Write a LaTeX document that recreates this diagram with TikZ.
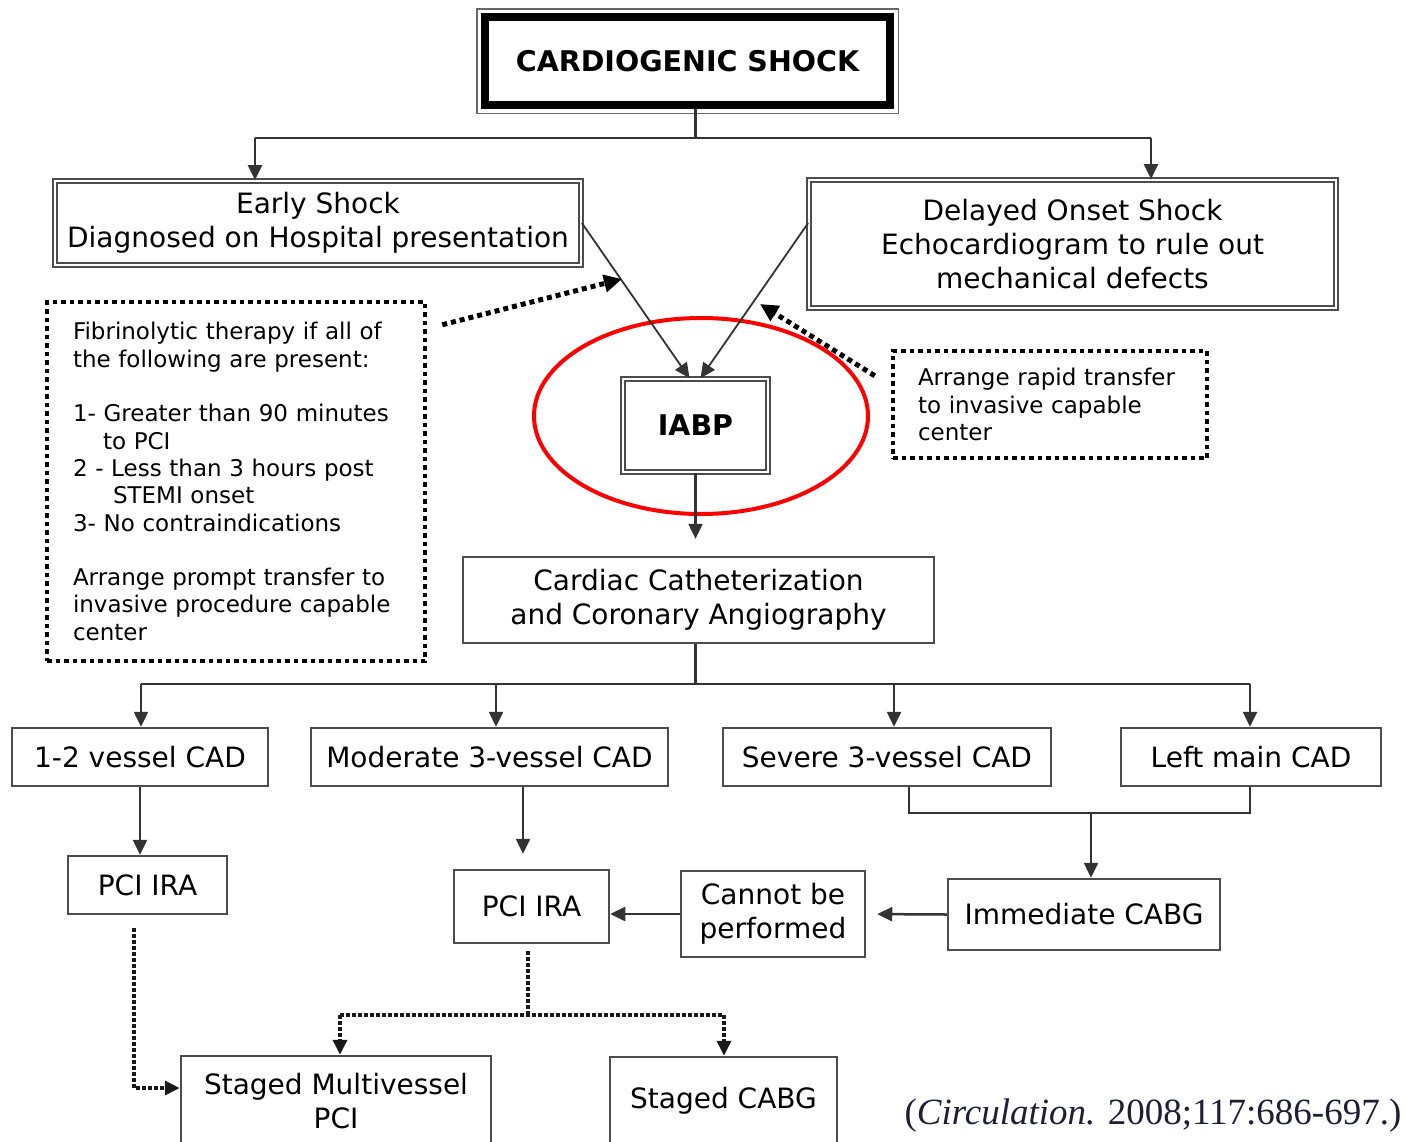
\documentclass[tikz,border=0pt]{standalone}
\usepackage{fontspec}
\setmainfont{DejaVu Sans}
\newfontfamily\citefont{Liberation Serif}
\usetikzlibrary{arrows.meta}
\definecolor{citecol}{RGB}{30,30,55}

\tikzset{
	plainbox/.style={draw=black!70, line width=2.5pt, inner sep=0pt, align=center, font=\fontsize{28}{34}\selectfont},
	dblbox/.style={plainbox, double, double distance=2.5pt, line width=1.7pt},
	boldbox/.style={font=\fontsize{28.5}{34}\selectfont\bfseries},
	dotbox/.style={draw=black, line width=4.5pt, dash pattern=on 4.5pt off 4pt, inner sep=0pt, align=left, font=\fontsize{23}{27.3}\selectfont},
	line/.style={draw=black!80, line width=2.5pt},
	arr/.style={line, -{Triangle[length=15pt,width=14pt]}},
	dotarr/.style={draw=black, line width=5pt, dash pattern=on 5pt off 4pt, -{Triangle[length=18pt,width=17pt]}},
	dotline/.style={draw=black!90, line width=3.5pt, dash pattern=on 3.5pt off 2.5pt},
	dotarrow/.style={dotline, -{Triangle[length=15pt,width=14pt]}},
}

\begin{document}
\begin{tikzpicture}[x=1pt, y=-1pt]
	\useasboundingbox (0,0) rectangle (1406,1141);
	% boxes
	\node[plainbox, boldbox, draw=black, line width=7.5pt, minimum width=405pt, minimum height=88pt] (shock) at (687.5,61) {CARDIOGENIC SHOCK};
	\draw[draw=black!60, line width=1.5pt] ([shift={(-4.5,-4.5)}]shock.north west) rectangle ([shift={(4.5,4.5)}]shock.south east);
	\node[dblbox, minimum width=526pt, minimum height=84pt] (early) at (318,223) {Early Shock\\Diagnosed on Hospital presentation};
	\node[dblbox, minimum width=527pt, minimum height=128pt] (delayed) at (1072.5,244) {Delayed Onset Shock\\Echocardiogram to rule out\\mechanical defects};
	\node[dblbox, boldbox, minimum width=145pt, minimum height=93pt] (iabp) at (695.5,425.5) {IABP};
	\node[dotbox, minimum width=378pt, minimum height=359pt, text width=326pt] (fibrin) at (236,481.5) {Fibrinolytic therapy if all of\\
		the following are present:\\[27.3pt]
		1- Greater than 90 minutes\\
		\hspace*{30pt}to PCI\\
		2 - Less than 3 hours post\\
		\hspace*{40pt}STEMI onset\\
		3- No contraindications\\[27.3pt]
		Arrange prompt transfer to\\
		invasive procedure capable\\
		center};
	\node[dotbox, minimum width=314pt, minimum height=107pt, text width=264pt] (rapid) at (1050,404.5) {Arrange rapid transfer\\to invasive capable\\center};
	\node[plainbox, minimum width=471pt, minimum height=86pt] (cath) at (698.5,600) {Cardiac Catheterization\\and Coronary Angiography};
	\node[plainbox, minimum width=256pt, minimum height=58pt] (cad12) at (140,757) {1-2 vessel CAD};
	\node[plainbox, minimum width=357pt, minimum height=58pt] (cadmod) at (489.5,757) {Moderate 3-vessel CAD};
	\node[plainbox, minimum width=328pt, minimum height=58pt] (cadsev) at (887,757) {Severe 3-vessel CAD};
	\node[plainbox, minimum width=260pt, minimum height=58pt] (cadlm) at (1251,757) {Left main CAD};
	\node[plainbox, minimum width=159pt, minimum height=58pt] (pcia) at (147.5,885) {PCI IRA};
	\node[plainbox, minimum width=155pt, minimum height=73pt] (pcib) at (531.5,906.5) {PCI IRA};
	\node[plainbox, minimum width=184pt, minimum height=86pt] (cannot) at (773,914) {Cannot be\\performed};
	\node[plainbox, minimum width=272pt, minimum height=71pt] (cabg) at (1084,914.5) {Immediate CABG};
	\node[plainbox, minimum width=310pt, minimum height=90pt] (stagedpci) at (336,1101) {Staged Multivessel\\PCI};
	\node[plainbox, minimum width=227pt, minimum height=88pt] (stagedcabg) at (723.5,1101) {Staged CABG};
	\node[font=\citefont\fontsize{37}{40}\selectfont, text=citecol, inner sep=0pt] (cite) at (1153,1116) {(\textit{Circulation.} 2008;117:686-697.)};

	% highlight
	\draw[draw=red, line width=4pt] ([shift={(5.5,-9.5)}]iabp.center) ellipse [x radius=167pt, y radius=98pt];

	% top fork
	\coordinate (forkL) at (255,138);
	\coordinate (forkR) at (1151,138);
	\draw[line] (shock.south -| iabp.north) -- (iabp.north |- forkL);
	\draw[line] (forkL) -- (forkR);
	\draw[arr] (forkL) -- (forkL |- early.north);
	\draw[arr] (forkR) -- (forkR |- delayed.north);
	\draw[arr, line width=1.8pt] (early.east) -- ([xshift=-6pt]iabp.north);
	\draw[arr, line width=1.8pt] (delayed.west |- early.east) -- ([xshift=5pt]iabp.north);

	% dotted hints
	\coordinate (tipE) at (622,279);
	\coordinate (tipD) at (760,304);
	\draw[dotarr] ([shift={(15,25)}]fibrin.north east) -- (tipE);
	\draw[dotarr] ([shift={(-16,27)}]rapid.north west) -- (tipD);

	% to catheterization and the four CAD groups
	\draw[arr, shorten >=17pt] (iabp.south) -- (iabp.south |- cath.north);
	\coordinate (rowL) at (141,684);
	\coordinate (rowR) at (1250,684);
	\draw[line] (cath.south -| iabp.south) -- (iabp.south |- rowL);
	\draw[line] (rowL) -- (rowR);
	\foreach \n/\x in {cad12/141, cadmod/496, cadsev/894, cadlm/1250}
		\draw[arr] (\x,684) -- (\n.north -| \x,684);

	% treatment
	\draw[arr] (cad12.south) -- (cad12.south |- pcia.north);
	\draw[arr, shorten >=15pt] (cadmod.south -| 523,0) -- (pcib.north -| 523,0);
	\coordinate (joinB) at (1091,813);
	\draw[line] (cadsev.south -| 909,0) |- (joinB);
	\draw[line] (cadlm.south -| 1250,0) |- (joinB);
	\draw[arr] (joinB) -- (joinB |- cabg.north);
	\draw[arr, shorten >=11pt] (cabg.west) -- (cannot.east);
	\draw[arr] (cannot.west) -- (cannot.west -| pcib.east);

	% staged
	\coordinate (dA) at (134,1088);
	\draw[dotarrow, shorten <=13pt] (pcia.south -| dA) |- (dA -| stagedpci.west);
	\coordinate (dB) at (528,1015);
	\coordinate (dBL) at (340,1015);
	\coordinate (dBR) at (724,1015);
	\draw[dotline, shorten <=7pt] (pcib.south -| dB) -- (dB);
	\draw[dotline] (dBL) -- (dBR);
	\draw[dotarrow] (dBL) -- (dBL |- stagedpci.north);
	\draw[dotarrow] (dBR) -- (dBR |- stagedcabg.north);
\end{tikzpicture}
\end{document}
